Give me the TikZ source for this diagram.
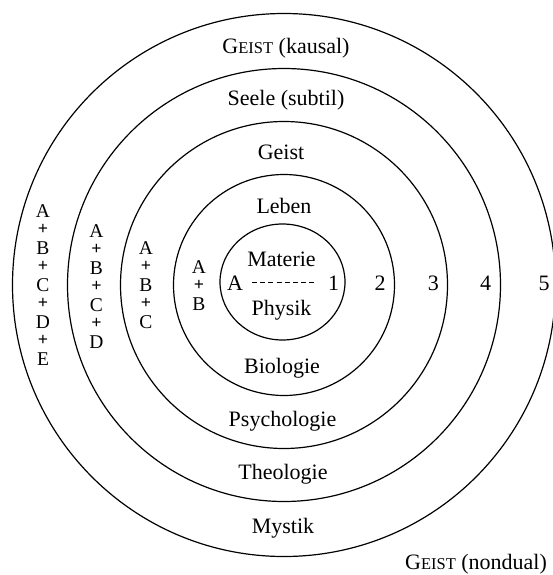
\documentclass[tikz,border=0pt]{standalone}
\usepackage{fontspec}
\setmainfont{Liberation Serif}
\newcommand{\geistsc}{G{\fontsize{16.5}{18}\selectfont EIST}}
\newcommand{\stackplus}{\raisebox{1.8pt}{\fontsize{18}{18}\selectfont\bfseries +}}
\tikzset{
	ring/.style={line width=1.2pt},
	lab/.style={font=\fontsize{22}{26}\selectfont, inner sep=0pt, anchor=base},
	stack/.style={font=\fontsize{19.5}{18.5}\selectfont, align=center, inner sep=0pt},
	dashline/.style={line width=1.5pt, dash pattern=on 5pt off 3.2pt, shorten <=8.8pt, shorten >=13pt}
}
\begin{document}
\begin{tikzpicture}[x=1pt, y=-1pt]
			\useasboundingbox (0,0) rectangle (552,575);
			
			% Rings
			\draw[ring] (282.5,282) ellipse [x radius=62.5pt, y radius=58pt];
			\foreach \r in {110.5,163.5,216.5,271.5}
				\draw[ring] (284,285) circle (\r pt);
			
			% Upper labels
			\node[lab] (gk) at (286,53.3) {\geistsc{} (kausal)};
			\node[lab] (seele) at (286,106) {Seele (subtil)};
			\node[lab] (geist) at (281,159.3) {Geist};
			\node[lab] (leben) at (284,213.3) {Leben};
			\node[lab] (materie) at (281.5,266.7) {Materie};
			
			% Centre line
			\node[lab] (la) at (235,290) {A};
			\node[lab] (n1) at (333.5,290) {1};
			\draw[dashline] (la) -- (n1);
			
			% Lower labels
			\node[lab] (physik) at (281.5,315) {Physik};
			\node[lab] (bio) at (282,373.3) {Biologie};
			\node[lab] (psy) at (282.5,426) {Psychologie};
			\node[lab] (theo) at (283,479.3) {Theologie};
			\node[lab] (myst) at (283,533.3) {Mystik};
			\node[lab] (gn) at (476,569) {\geistsc{} (nondual)};
			
			% Level numbers
			\node[lab] (n2) at (380,290) {2};
			\node[lab] (n3) at (433.3,290) {3};
			\node[lab] (n4) at (485.7,290) {4};
			\node[lab] (n5) at (544,290) {5};
			
			% Stacks
			\node[stack] (sB) at (199,285.5) {A\\\stackplus\\B};
			\node[stack] (sC) at (146,285.5) {A\\\stackplus\\B\\\stackplus\\C};
			\node[stack] (sD) at (96.5,286.5) {A\\\stackplus\\B\\\stackplus\\C\\\stackplus\\D};
			\node[stack] (sE) at (43,285.5) {A\\\stackplus\\B\\\stackplus\\C\\\stackplus\\D\\\stackplus\\E};
			
\end{tikzpicture}
\end{document}
